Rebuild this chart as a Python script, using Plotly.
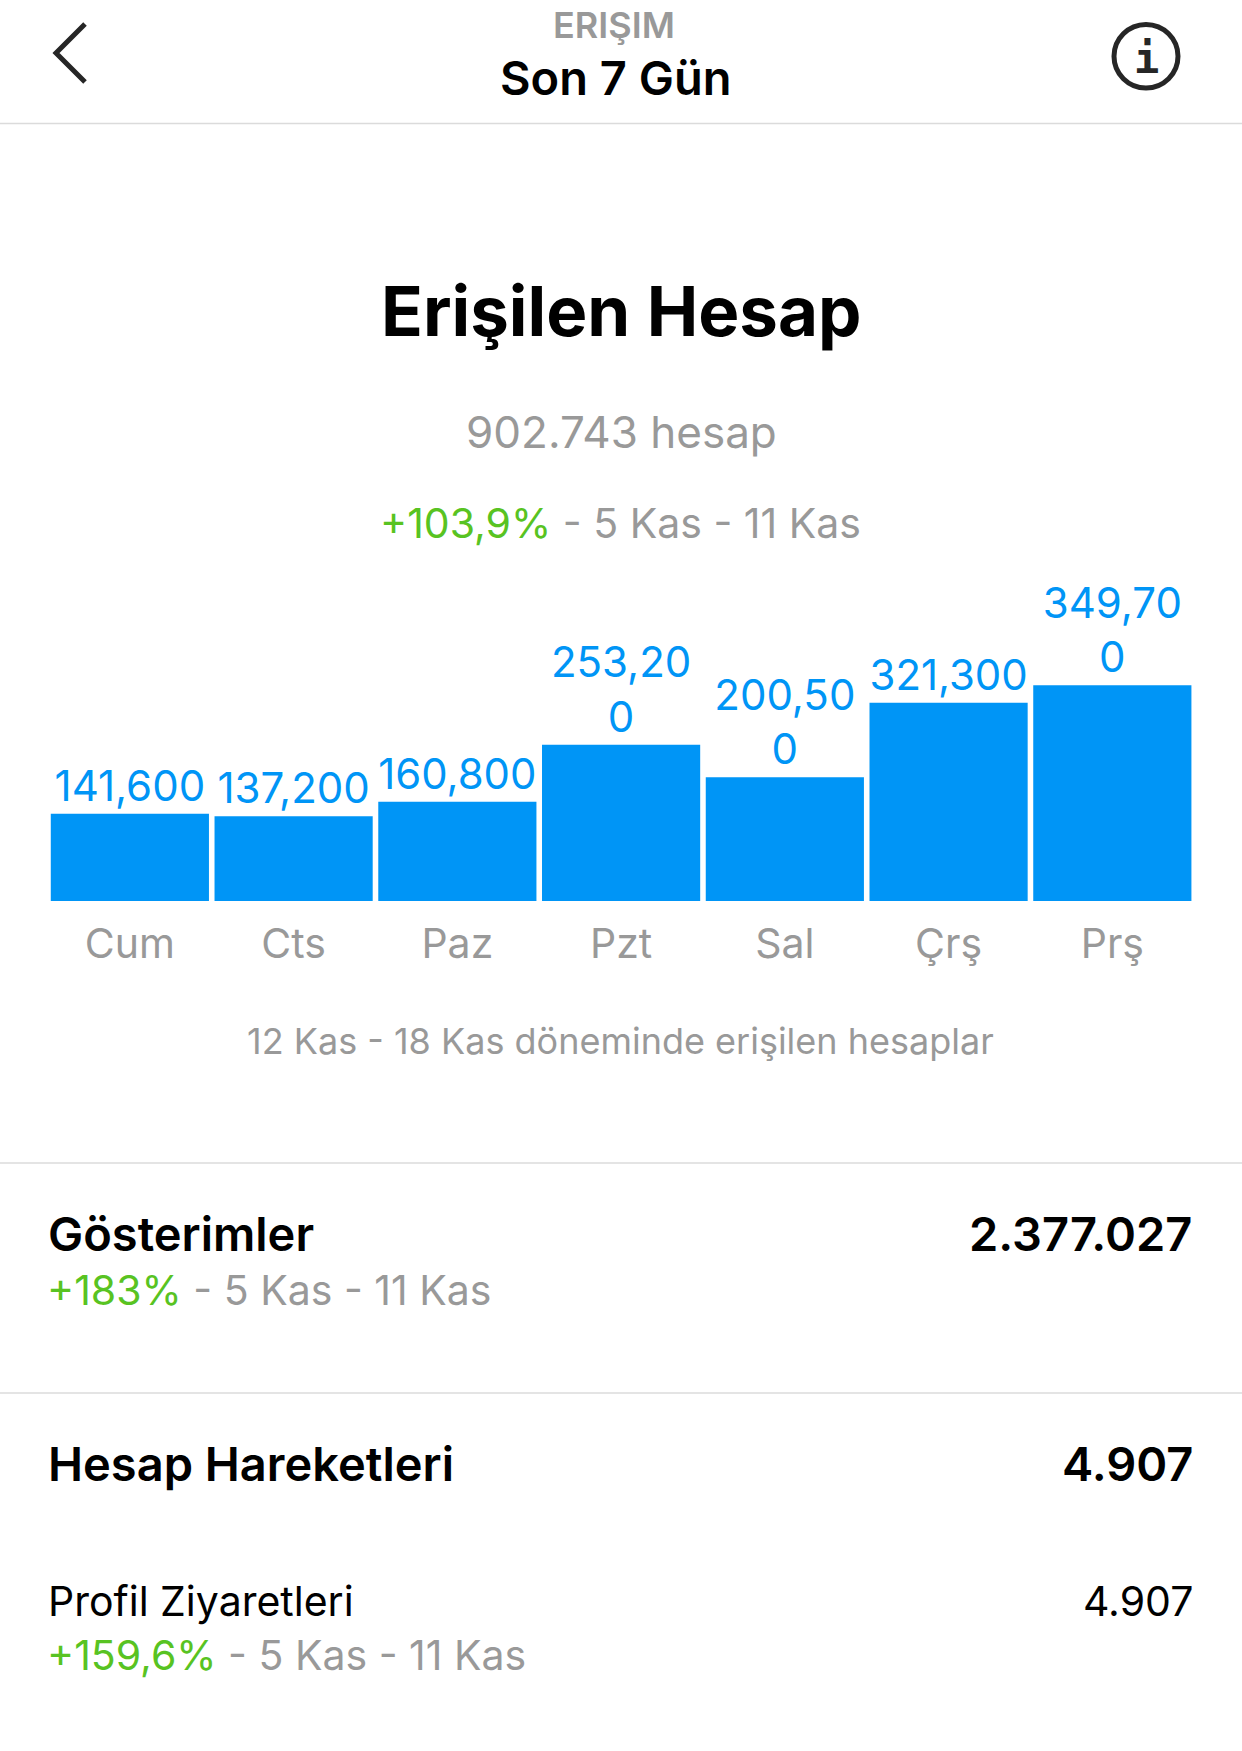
import plotly.graph_objects as go

W = 1242
H = 1751

gunler = ['Cum', 'Cts', 'Paz', 'Pzt', 'Sal', 'Çrş', 'Prş']
erisim = [141600, 137200, 160800, 253200, 200500, 321300, 349700]
# the app wraps the longer numbers inside the bar width
etiketler = ['141,600', '137,200', '160,800', '253,20<br>0', '200,50<br>0', '321,300', '349,70<br>0']

MAVI = '#0095f6'
YESIL = '#58c322'
GRI = '#999999'
CIZGI = '#dbdbdb'
FONT = 'Inter'


def px_x(x):
    return x / W


def px_y(y):
    return 1 - y / H


def yazi(x, y, text, size, color='#000000', weight=400, anchor='center'):
    return dict(x=px_x(x), y=px_y(y), xref='paper', yref='paper', text=text, showarrow=False,
                xanchor=anchor, yanchor='middle', align=anchor,
                font=dict(family=FONT, size=size, color=color, weight=weight))


def degisim(yuzde):
    return f'<span style="color:{YESIL}">{yuzde}</span> - 5 Kas - 11 Kas'


def cizgi(y):
    return dict(type='line', xref='paper', yref='paper', x0=0, x1=1, y0=px_y(y), y1=px_y(y),
                line=dict(color=CIZGI, width=1.5))


fig = go.Figure(go.Bar(
    x=gunler,
    y=erisim,
    text=etiketler,
    textposition='outside',
    cliponaxis=False,
    textangle=0,
    marker=dict(color=MAVI, line=dict(width=0)),
    textfont=dict(family=FONT, size=42, color=MAVI),
))

ust = 540
alt = 901
fig.update_layout(
    width=W,
    height=H,
    autosize=False,
    margin=dict(l=0, r=0, t=0, b=0),
    paper_bgcolor='white',
    plot_bgcolor='white',
    showlegend=False,
    bargap=0.034,
    uniformtext=dict(mode=False),
    xaxis=dict(domain=[px_x(48.0), px_x(1194.2)], showgrid=False, showline=False, zeroline=False,
               ticks='outside', ticklen=7, tickcolor='rgba(0,0,0,0)',
               tickfont=dict(family=FONT, size=41, color=GRI)),
    yaxis=dict(domain=[px_y(alt), px_y(ust)], range=[0, (alt - ust) / 0.000617], visible=False),
    annotations=[
        yazi(614, 25, 'ERIŞIM', 36, GRI, 600),
        yazi(615, 77, 'Son 7 Gün', 47, '#000000', 600),
        yazi(621, 311, 'Erişilen Hesap', 69, '#000000', 700),
        yazi(621, 432, '902.743 hesap', 44, GRI),
        yazi(620, 523, degisim('+103,9%'), 41, GRI),
        yazi(620, 1041, '12 Kas - 18 Kas döneminde erişilen hesaplar', 36, GRI),
        yazi(46, 1233, 'Gösterimler', 47, '#000000', 600, 'left'),
        yazi(1194, 1233, '2.377.027', 47, '#000000', 600, 'right'),
        yazi(45, 1290, degisim('+183%'), 41, GRI, 400, 'left'),
        yazi(46, 1463, 'Hesap Hareketleri', 47, '#000000', 600, 'left'),
        yazi(1195, 1463, '4.907', 47, '#000000', 600, 'right'),
        yazi(46, 1601, 'Profil Ziyaretleri', 41, '#000000', 400, 'left'),
        yazi(1195, 1601, '4.907', 41, '#000000', 400, 'right'),
        yazi(45, 1655, degisim('+159,6%'), 41, GRI, 400, 'left'),
        dict(x=px_x(1146), y=px_y(59), xref='paper', yref='paper', text='i', showarrow=False,
             xanchor='center', yanchor='middle',
             font=dict(family='DejaVu Sans Mono', size=42, color='#262626', weight=700)),
    ],
    shapes=[
        cizgi(123.5),
        cizgi(1163),
        cizgi(1393),
        # back chevron and info ring in the header
        dict(type='path', xref='paper', yref='paper',
             path=f'M {px_x(85)} {px_y(24)} L {px_x(56)} {px_y(53)} L {px_x(85)} {px_y(82)}',
             line=dict(color='#262626', width=5)),
        dict(type='circle', xref='paper', yref='paper',
             x0=px_x(1114), x1=px_x(1178), y0=px_y(24.5), y1=px_y(88),
             line=dict(color='#262626', width=5)),
    ],
)

# page margin off so the figure sits at the window corner
fig.write_html('out.html', post_script="document.body.style.margin='0';",
               config={'displayModeBar': False})
